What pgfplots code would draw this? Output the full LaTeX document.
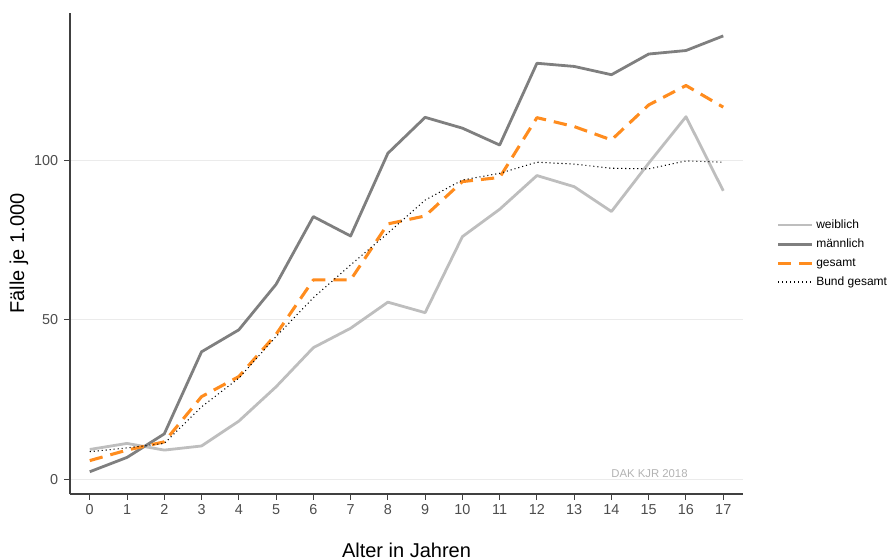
\documentclass[border=0pt]{standalone}
\usepackage{fontspec}
\setmainfont{Liberation Sans}
\usepackage{pgfplots}
\pgfplotsset{compat=1.18}
\definecolor{wcol}{RGB}{190,190,190}
\definecolor{mcol}{RGB}{127,127,127}
\definecolor{gcol}{RGB}{255,140,30}
\definecolor{tickcol}{RGB}{77,77,77}
\definecolor{gridcol}{RGB}{235,235,235}
\begin{document}
\begin{tikzpicture}
\path[use as bounding box] (-52.5bp,-49.5bp) rectangle (614.25bp,370.5bp);
\begin{axis}[
  scale only axis,
  width=504.75bp, height=360.75bp,
  xmin=-0.53, xmax=17.53,
  ymin=-4.7, ymax=146.5,
  axis x line=bottom, axis y line=left,
  axis line style={-, draw=black!75, line width=0.9bp},
  xtick={0,1,...,17},
  ytick={0,50,100},
  yticklabels={0,50,100},
  tick align=outside,
  major tick length=4.3bp,
  tick style={draw=black!75, line width=0.75bp},
  ymajorgrids,
  grid style={draw=gridcol, line width=0.75bp},
  /pgf/number format/assume math mode=true,
  ticklabel style={font=\fontsize{10.8bp}{12bp}\selectfont, text=tickcol},
  yticklabel style={xshift=-1bp},
  xlabel={Alter in Jahren},
  ylabel={Fälle je 1.000},
  xlabel style={at={(axis description cs:0.5,-0.1164)}, anchor=center, font=\fontsize{15bp}{18bp}\selectfont},
  ylabel style={at={(axis description cs:-0.0758,0.5)}, anchor=center, font=\fontsize{15bp}{18bp}\selectfont},
  legend style={at={(1,0.5)}, anchor=west, xshift=22bp, draw=none, fill=none,
    font=\fontsize{9bp}{11bp}\selectfont, row sep=2.5bp,
    legend cell align=left},
  legend image code/.code={\draw[#1] (0bp,0bp) -- (25.5bp,0bp);},
  line cap=butt, line join=round,
]
\addplot[wcol, line width=2.1bp] coordinates {
(0,9.3) (1,11.2) (2,9.1) (3,10.4) (4,18.2) (5,29.0) (6,41.3) (7,47.4) (8,55.6) (9,52.3)
(10,76.2) (11,84.8) (12,95.4) (13,91.9) (14,84.1) (15,99.3) (16,113.9) (17,90.6)};
\addlegendentry{weiblich}
\addplot[mcol, line width=2.1bp] coordinates {
(0,2.3) (1,6.8) (2,14.2) (3,40.0) (4,46.9) (5,61.2) (6,82.5) (7,76.4) (8,102.4) (9,113.7)
(10,110.3) (11,105.0) (12,130.7) (13,129.7) (14,127.1) (15,133.6) (16,134.7) (17,139.3)};
\addlegendentry{männlich}
\addplot[gcol, line width=2.3bp, dash pattern=on 10bp off 6bp] coordinates {
(0,5.8) (1,9.1) (2,11.7) (3,25.9) (4,32.2) (5,45.5) (6,62.6) (7,62.6) (8,80.2) (9,82.7)
(10,93.5) (11,94.8) (12,113.6) (13,110.8) (14,106.6) (15,117.6) (16,123.7) (17,116.9)};
\addlegendentry{gesamt}
\addplot[black, line width=0.8bp, dash pattern=on 0.8bp off 2.2bp] coordinates {
(0,8.6) (1,9.8) (2,11.2) (3,22.7) (4,31.7) (5,44.8) (6,57.0) (7,67.3) (8,77.3) (9,87.7)
(10,94.0) (11,96.1) (12,99.6) (13,99.0) (14,97.7) (15,97.5) (16,100.0) (17,99.6)};
\addlegendentry{Bund gesamt}
\node[text=black!30, font=\fontsize{8.5bp}{10bp}\selectfont] at (axis cs:15.02,1.8) {DAK KJR 2018};
\end{axis}
\end{tikzpicture}
\end{document}
